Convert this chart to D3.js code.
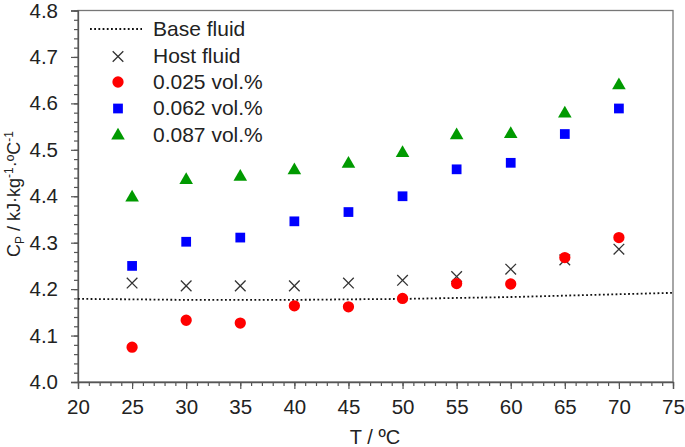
<!DOCTYPE html>
<html><head><meta charset="utf-8">
<script src="https://cdn.jsdelivr.net/npm/d3@7"></script>
<style>body{margin:0;background:#fff}svg{display:block}text{font-family:"Liberation Sans",Arial,sans-serif;fill:#222}</style>
</head><body><svg id="c" width="685" height="447"></svg>
<script>
const temps = [25,30,35,40,45,50,55,60,65,70];
const hostFluid = [4.213,4.207,4.207,4.207,4.213,4.219,4.227,4.243,4.263,4.286];
const vol025 = [4.075,4.133,4.127,4.164,4.162,4.180,4.212,4.211,4.268,4.311];
const vol062 = [4.250,4.302,4.311,4.346,4.366,4.400,4.458,4.472,4.534,4.589];
const vol087 = [4.397,4.435,4.442,4.456,4.470,4.493,4.531,4.534,4.578,4.639];
const baseT = [20,25,30,35,40,45,50,55,60,65,70,75];
const baseFluid = [4.179,4.178,4.177,4.177,4.177,4.178,4.179,4.181,4.183,4.186,4.189,4.192];
const xTicks = [20,25,30,35,40,45,50,55,60,65,70,75];
const yTicks = [4.0,4.1,4.2,4.3,4.4,4.5,4.6,4.7,4.8];
const legendLabels = ["Base fluid","Host fluid","0.025 vol.%","0.062 vol.%","0.087 vol.%"];

const svg = d3.select("#c");
const L=78,R=673,T=10.5,B=382;
const x = d3.scaleLinear().domain([20,75]).range([L,R]);
const y = d3.scaleLinear().domain([4.0,4.8]).range([B,T]);
const axisCol="#555";

svg.append("rect").attr("x",L).attr("y",T).attr("width",R-L).attr("height",B-T)
  .attr("fill","none").attr("stroke","#777").attr("stroke-width",1.3);

const gx = svg.append("g").attr("transform",`translate(0,${B})`);
gx.call(d3.axisBottom(x).tickValues(d3.range(20,76,1)).tickSize(4).tickFormat(""))
  .call(g=>g.select(".domain").remove());
gx.selectAll("line").attr("stroke",axisCol).attr("stroke-width",1.2);
const gx2 = svg.append("g").attr("transform",`translate(0,${B})`);
gx2.call(d3.axisBottom(x).tickValues(xTicks).tickSize(7).tickPadding(10).tickFormat(d3.format("d")))
  .call(g=>g.select(".domain").attr("stroke",axisCol).attr("stroke-width",1.3));
gx2.selectAll("line").attr("stroke",axisCol).attr("stroke-width",1.2);
gx2.selectAll("text").style("font-size","20.5px").attr("fill","#222");

const gy = svg.append("g").attr("transform",`translate(${L},0)`);
gy.call(d3.axisLeft(y).tickValues(d3.range(0,41).map(i=>4+i*0.02)).tickSize(4).tickFormat(""))
  .call(g=>g.select(".domain").remove());
gy.selectAll("line").attr("stroke",axisCol).attr("stroke-width",1.2);
const gy2 = svg.append("g").attr("transform",`translate(${L},0)`);
gy2.call(d3.axisLeft(y).tickValues(yTicks).tickSize(7).tickPadding(13).tickFormat(d3.format(".1f")))
  .call(g=>g.select(".domain").attr("stroke",axisCol).attr("stroke-width",1.3));
gy2.selectAll("line").attr("stroke",axisCol).attr("stroke-width",1.2);
gy2.selectAll("text").style("font-size","20.5px").attr("fill","#222");

svg.append("text").attr("x",375).attr("y",444).attr("text-anchor","middle").style("font-size","20px").text("T / ºC");
const yt = svg.append("text").attr("transform","translate(19.5,194) rotate(-90)").attr("text-anchor","middle").style("font-size","18px");
yt.append("tspan").text("C");
yt.append("tspan").attr("dy",4).style("font-size","12px").text("P");
yt.append("tspan").attr("dy",-4).text(" / kJ·kg");
yt.append("tspan").attr("dy",-7).style("font-size","12px").text("-1");
yt.append("tspan").attr("dy",7).text("·ºC");
yt.append("tspan").attr("dy",-7).style("font-size","12px").text("-1");

svg.append("path").datum(baseT.map((t,i)=>[t,baseFluid[i]]))
  .attr("d",d3.line().x(d=>x(d[0])).y(d=>y(d[1])).curve(d3.curveMonotoneX))
  .attr("fill","none").attr("stroke","#111").attr("stroke-width",1.8).attr("stroke-dasharray","1.8,2.4");

const sym = (type,size)=>d3.symbol().type(type).size(size)();
function drawSeries(vals, type, size, fill, stroke){
  svg.append("g").selectAll("path").data(temps.map((t,i)=>[t,vals[i]])).join("path")
    .attr("transform",d=>`translate(${x(d[0])},${y(d[1])})`)
    .attr("d",sym(type,size)).attr("fill",fill).attr("stroke",stroke||"none").attr("stroke-width",1.3);
}
drawSeries(hostFluid, d3.symbolX, 75, "none", "#333");
drawSeries(vol025, d3.symbolCircle, 100, "#ff0000");
drawSeries(vol062, d3.symbolSquare, 95, "#0000ff");
drawSeries(vol087, d3.symbolTriangle, 80, "#009a00");

const rowY=[29,56.5,82,108.5,135.5];
svg.append("line").attr("x1",90).attr("x2",142).attr("y1",rowY[0]).attr("y2",rowY[0])
  .attr("stroke","#111").attr("stroke-width",1.8).attr("stroke-dasharray","1.8,2.4");
const legSyms=[[d3.symbolX,75,"none","#333"],[d3.symbolCircle,100,"#ff0000"],[d3.symbolSquare,95,"#0000ff"],[d3.symbolTriangle,80,"#009a00"]];
legSyms.forEach((s,i)=>{
  svg.append("path").attr("transform",`translate(118,${rowY[i+1]})`).attr("d",sym(s[0],s[1]))
    .attr("fill",s[2]).attr("stroke",s[3]||"none").attr("stroke-width",1.3);
});
legendLabels.forEach((t,i)=>{
  svg.append("text").attr("x",153).attr("y",rowY[i]+6.5).style("font-size","21px").text(t);
});
</script></body></html>
